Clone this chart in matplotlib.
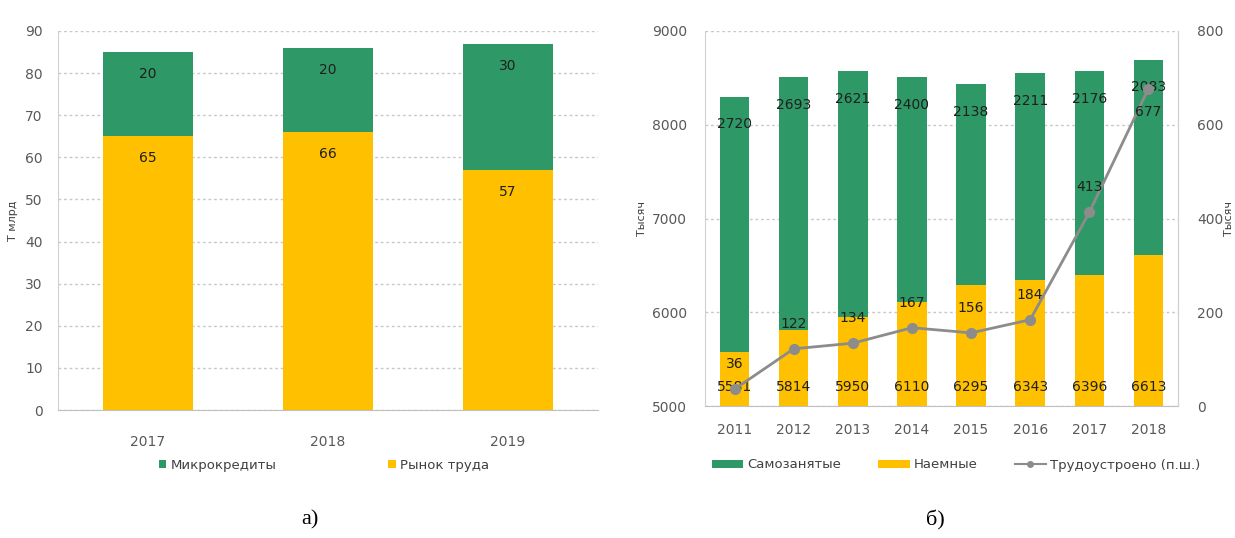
import matplotlib
matplotlib.use("Agg")
import matplotlib.pyplot as plt
import numpy as np
from matplotlib.lines import Line2D
from matplotlib.patches import Patch

# ---- data (chart a) ----
years_a = ["2017", "2018", "2019"]
labor_market = [65, 66, 57]       # Рынок труда
microcredits = [20, 20, 30]       # Микрокредиты

# ---- data (chart б) ----
years_b = ["2011", "2012", "2013", "2014", "2015", "2016", "2017", "2018"]
hired = [5581, 5814, 5950, 6110, 6295, 6343, 6396, 6613]         # Наемные
self_employed = [2720, 2693, 2621, 2400, 2138, 2211, 2176, 2083]  # Самозанятые
employed = [36, 122, 134, 167, 156, 184, 413, 677]                # Трудоустроено (п.ш.)

GREEN = "#2e9966"
YELLOW = "#ffc000"
GRAY_LINE = "#8c8c8c"
TICK_C = "#595959"
LABEL_C = "#1f1f1f"
GRID_C = "#c8c8c8"
SPINE_C = "#d0d0d0"

plt.rcParams['font.family'] = ['DejaVu Sans']

fig = plt.figure(figsize=(12.35, 5.38), dpi=100)

# ================= chart a =================
axA = fig.add_axes([58/1235, 128/538, 540/1235, 379/538])
xa = np.arange(len(years_a))
axA.bar(xa, labor_market, width=0.5, color=YELLOW, zorder=2)
axA.bar(xa, microcredits, width=0.5, bottom=labor_market, color=GREEN, zorder=2)
axA.set_xlim(-0.5, len(years_a) - 0.5)
axA.set_ylim(0, 90)
axA.set_yticks(np.arange(0, 91, 10))
axA.set_xticks(xa)
axA.set_xticklabels(years_a)
axA.yaxis.grid(True, color=GRID_C, linestyle=(0, (2, 2)), linewidth=1.0, zorder=0)
axA.set_axisbelow(True)
for s in ["top", "right"]:
    axA.spines[s].set_visible(False)
axA.spines["left"].set_color(SPINE_C)
axA.spines["bottom"].set_color("#bfbfbf")
axA.tick_params(axis="both", length=0, colors=TICK_C, labelsize=10)
axA.tick_params(axis="x", pad=18)
axA.tick_params(axis="y", pad=11)
axA.set_ylabel("Т млрд", fontsize=8, color="#404040")
axA.yaxis.set_label_coords(-0.075, 0.5)

for i in range(len(years_a)):
    top1 = labor_market[i]
    top2 = labor_market[i] + microcredits[i]
    axA.annotate(str(labor_market[i]), (xa[i], top1), xytext=(0, -16),
                 textcoords="offset points", ha="center", va="center",
                 fontsize=10, color=LABEL_C, zorder=5)
    axA.annotate(str(microcredits[i]), (xa[i], top2), xytext=(0, -16),
                 textcoords="offset points", ha="center", va="center",
                 fontsize=10, color=LABEL_C, zorder=5)

legA = [Patch(facecolor=GREEN, label="Микрокредиты"),
        Patch(facecolor=YELLOW, label="Рынок труда")]
fig.legend(handles=legA, loc="center", bbox_to_anchor=(324/1235, 1 - 465/538),
           ncol=2, frameon=False, fontsize=9.5, handlelength=0.55, handleheight=0.55,
           handletextpad=0.3, columnspacing=8.5, labelcolor="#404040")

# ================= chart б =================
axB = fig.add_axes([705/1235, 132/538, 473/1235, 375/538])
xb = np.arange(len(years_b))
axB.bar(xb, hired, width=0.5, color=YELLOW, zorder=2)
axB.bar(xb, self_employed, width=0.5, bottom=hired, color=GREEN, zorder=2)
axB.set_xlim(-0.5, len(years_b) - 0.5)
axB.set_ylim(5000, 9000)
axB.set_yticks(np.arange(5000, 9001, 1000))
axB.set_xticks(xb)
axB.set_xticklabels(years_b)
axB.yaxis.grid(True, color=GRID_C, linestyle=(0, (2, 2)), linewidth=1.0, zorder=0)
axB.set_axisbelow(True)
axB.spines["top"].set_visible(False)
axB.spines["left"].set_color(SPINE_C)
axB.spines["right"].set_color(SPINE_C)
axB.spines["bottom"].set_color("#bfbfbf")
axB.tick_params(axis="both", length=0, colors=TICK_C, labelsize=10)
axB.tick_params(axis="x", pad=12)
axB.tick_params(axis="y", pad=13)
axB.set_ylabel("Тысяч", fontsize=8, color="#404040")
axB.yaxis.set_label_coords(-0.123, 0.5)

for i in range(len(years_b)):
    axB.annotate(str(hired[i]), (xb[i], 5000), xytext=(0, 14),
                 textcoords="offset points", ha="center", va="center",
                 fontsize=10, color=LABEL_C, zorder=5)
    axB.annotate(str(self_employed[i]), (xb[i], hired[i] + self_employed[i]),
                 xytext=(0, -20), textcoords="offset points", ha="center",
                 va="center", fontsize=10, color=LABEL_C, zorder=5)

axB2 = axB.twinx()
axB2.set_position(axB.get_position())
axB2.set_ylim(0, 800)
axB2.set_yticks(np.arange(0, 801, 200))
axB2.plot(xb, employed, color=GRAY_LINE, linewidth=2, marker="o", markersize=7,
          markerfacecolor=GRAY_LINE, markeredgecolor=GRAY_LINE, zorder=4)
for s in ["top", "left", "bottom"]:
    axB2.spines[s].set_visible(False)
axB2.spines["right"].set_color(SPINE_C)
axB2.tick_params(axis="y", length=0, colors=TICK_C, labelsize=10, pad=14)
axB2.set_ylabel("Тысяч", fontsize=8, color="#404040", rotation=90)
axB2.yaxis.set_label_coords(1.098, 0.5)

for i in range(len(years_b)):
    off = 18 if i < len(years_b) - 1 else -17
    axB2.annotate(str(employed[i]), (xb[i], employed[i]), xytext=(0, off),
                  textcoords="offset points", ha="center", va="center",
                  fontsize=10, color=LABEL_C, zorder=6)

legB = [Patch(facecolor=GREEN, label="Самозанятые"),
        Patch(facecolor=YELLOW, label="Наемные"),
        Line2D([0], [0], color=GRAY_LINE, linewidth=1.5, marker="o", markersize=4,
               label="Трудоустроено (п.ш.)")]
fig.legend(handles=legB, loc="center", bbox_to_anchor=(956/1235, 1 - 465/538),
           ncol=3, frameon=False, fontsize=9.5, handlelength=2.4, handleheight=0.5,
           handletextpad=0.3, columnspacing=2.8, labelcolor="#404040")

# ---- captions ----
fig.text(310/1235, 1 - 520/538, "а)", ha="center", va="center",
         fontsize=16, family="Liberation Serif", color="black")
fig.text(935/1235, 1 - 520/538, "б)", ha="center", va="center",
         fontsize=16, family="Liberation Serif", color="black")

fig.savefig("out.png", dpi=100)
